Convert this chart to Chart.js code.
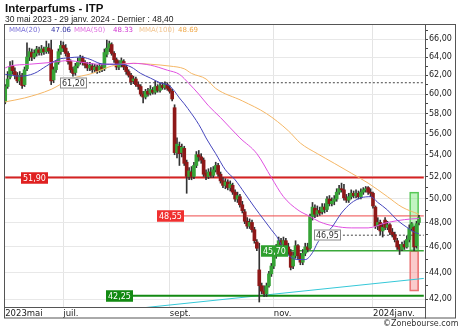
<!DOCTYPE html>
<html><head><meta charset="utf-8">
<script src="https://cdn.jsdelivr.net/npm/chart.js@4.4.0/dist/chart.umd.min.js"></script>
<style>
html,body{margin:0;padding:0;background:#fff;width:460px;height:331px;overflow:hidden;}
#wrap{position:relative;width:460px;height:331px;}
canvas{position:absolute;left:0;top:0;}
.t{position:absolute;white-space:nowrap;font-family:"DejaVu Sans",sans-serif;line-height:1;}
</style></head><body>
<div id="wrap">
<canvas id="c" width="460" height="331"></canvas>
<div class="t" style="left:5px;top:3px;font-family:'Liberation Sans',Arial,sans-serif;font-weight:bold;font-size:11.5px;color:#111">Interparfums - ITP</div>
<div class="t" style="left:5px;top:15px;font-family:'Liberation Sans',Arial,sans-serif;font-size:8.5px;color:#222">30 mai 2023 - 29 janv. 2024 - Dernier : 48,40</div>
<div class="t" style="left:9px;top:27px;font-size:7px;color:#7a70d8">MMA(20)</div>
<div class="t" style="left:51px;top:27px;font-size:7px;color:#3535a5">47.06</div>
<div class="t" style="left:74px;top:27px;font-size:7px;color:#e070e0">MMA(50)</div>
<div class="t" style="left:113px;top:27px;font-size:7px;color:#d030d0">48.33</div>
<div class="t" style="left:139px;top:27px;font-size:7px;color:#f2c48e">MMA(100)</div>
<div class="t" style="left:178px;top:27px;font-size:7px;color:#f0a848">48.69</div>
<div class="t" style="left:383px;top:320px;font-size:8px;color:#333">©Zonebourse.com</div>
</div>
<script>
// ---- categories: trading days (Euronext Paris) ----
const firstDay = [2023, 4, 30];
const lastDay = [2024, 0, 29];
const closedDays = ['2023-12-25', '2023-12-26', '2024-01-01'];
function tradingDays() {
  const out = [];
  let t = Date.UTC(firstDay[0], firstDay[1], firstDay[2]);
  const end = Date.UTC(lastDay[0], lastDay[1], lastDay[2]);
  while (t <= end) {
    const d = new Date(t);
    const s = d.toISOString().slice(0, 10);
    const wd = d.getUTCDay();
    if (wd !== 0 && wd !== 6 && !closedDays.includes(s)) out.push(s);
    t += 86400000;
  }
  return out;
}
const days = tradingDays();
const labels = days.concat(['', ' ']);

// ---- candle series ----
const opens = [59.2,60.8,61.8,63.0,62.4,62.0,61.4,62.0,61.0,62.7,64.0,64.5,64.0,64.4,64.8,64.5,64.9,64.6,65.0,64.8,
61.5,62.6,63.4,64.6,65.3,65.0,64.4,63.5,62.6,62.3,63.0,63.5,63.9,63.4,63.1,62.8,63.0,62.6,62.9,62.5,
62.9,62.7,64.3,65.0,65.4,64.4,63.7,62.9,63.2,63.5,62.9,62.4,62.0,61.4,61.6,61.0,60.8,60.0,59.7,60.3,
60.1,60.4,60.2,60.8,60.4,60.9,60.7,61.0,60.6,60.3,58.6,54.2,54.8,54.2,54.6,53.3,52.0,52.4,52.0,53.0,
54.0,53.8,53.5,52.3,52.0,52.4,52.1,52.6,53.0,52.2,51.6,51.2,51.5,51.0,51.2,50.6,50.0,50.2,49.5,48.9,
48.1,47.7,48.0,47.4,46.4,44.2,43.0,42.6,42.4,43.0,43.9,44.5,45.3,46.0,46.5,46.2,46.5,46.0,45.6,44.5,
45.3,46.1,45.3,44.8,45.5,46.0,45.9,48.5,49.2,48.7,49.0,48.9,49.3,49.1,50.0,49.6,49.8,50.0,50.6,50.9,
50.8,50.1,49.9,50.2,50.5,50.3,50.5,50.2,50.6,50.8,51.0,50.6,50.5,49.3,47.7,48.0,47.3,48.2,47.6,47.8,
47.2,47.0,46.5,46.0,45.8,46.2,46.0,46.6,47.5,47.6,46.1,48.0];
const highs = [61.0,62.4,63.5,63.6,62.8,62.3,62.4,62.2,62.9,65.6,65.0,64.9,64.8,65.2,65.1,65.3,65.1,65.8,65.5,65.9,
62.9,63.6,64.9,65.8,65.7,65.4,64.6,63.7,62.9,63.3,63.9,64.2,64.1,63.6,63.4,63.4,63.3,63.2,63.1,63.3,
63.2,64.9,65.9,65.8,65.6,64.6,63.9,63.6,63.9,63.7,63.1,62.6,62.2,61.9,61.8,61.3,61.0,60.3,60.5,60.6,
60.9,60.7,61.4,61.0,61.2,61.2,61.3,61.2,60.9,60.5,58.9,55.6,55.2,55.0,54.8,53.5,52.8,52.9,53.3,54.3,
54.4,54.1,53.7,52.6,52.7,52.8,52.9,53.3,53.2,52.4,51.9,51.8,51.7,51.6,51.4,50.8,50.6,50.4,49.8,49.1,
48.4,48.3,48.2,47.6,46.6,46.3,43.2,43.0,43.2,44.1,44.7,45.5,46.2,46.8,46.7,46.8,46.7,46.3,45.8,45.6,
46.5,46.2,45.5,45.8,46.3,46.3,48.7,49.7,49.5,49.4,49.3,49.6,49.6,50.2,50.3,50.1,50.3,50.9,51.2,51.4,
51.3,50.4,50.5,50.8,50.7,50.8,50.7,50.9,51.0,51.1,51.1,50.9,50.6,49.4,48.4,48.2,47.9,48.4,48.1,47.9,
47.5,47.2,46.7,46.2,46.4,46.5,46.9,47.8,48.0,47.7,48.1,48.6];
const lows = [59.0,60.6,61.6,62.1,61.6,61.2,61.0,60.6,60.8,62.5,63.6,63.6,63.8,64.1,64.2,64.2,64.3,64.4,64.4,61.0,
61.2,62.3,63.2,64.3,64.6,64.1,63.2,62.3,61.9,62.0,62.8,63.2,63.1,62.8,62.5,62.5,62.3,62.4,62.2,62.3,
62.4,62.5,64.0,64.6,64.2,63.4,62.6,62.6,62.9,62.6,62.1,61.8,61.0,61.1,60.8,60.5,59.8,59.1,59.5,59.8,
59.9,60.0,60.0,60.2,60.2,60.5,60.5,60.4,60.1,59.3,54.0,53.7,53.0,53.8,53.0,50.5,51.7,51.7,51.8,52.8,
53.4,53.2,52.0,51.7,51.8,51.9,51.9,52.4,52.0,51.4,51.0,50.9,50.8,50.7,50.4,49.8,49.7,49.3,48.8,47.9,
47.5,47.5,47.2,46.3,45.7,41.8,42.4,42.2,42.2,42.9,43.7,44.3,45.1,45.8,45.9,46.0,45.7,45.4,44.2,44.3,
45.1,45.0,44.6,44.6,45.3,45.6,45.8,48.2,48.4,48.5,48.6,48.7,48.8,48.9,49.4,49.4,49.5,49.8,50.4,50.6,
49.9,49.7,49.7,50.0,50.1,50.1,50.0,50.0,50.4,50.6,50.4,50.2,49.2,47.5,47.4,47.0,46.8,47.4,47.4,47.0,
46.8,46.4,45.8,45.4,45.7,45.8,45.9,46.4,47.3,45.7,45.9,47.8];
const closes = [60.8,61.6,62.9,62.5,62.0,61.4,62.0,60.9,62.6,64.0,64.6,64.0,64.4,64.9,64.5,64.9,64.6,65.1,64.7,61.4,
62.6,63.4,64.6,65.3,65.0,64.4,63.5,62.6,62.2,63.0,63.5,63.9,63.4,63.1,62.8,63.1,62.6,62.9,62.5,63.0,
62.7,64.5,65.0,65.5,64.4,63.7,62.9,63.2,63.6,62.9,62.4,62.0,61.3,61.6,61.0,60.8,60.0,59.7,60.3,60.0,
60.5,60.2,60.8,60.4,60.9,60.7,61.0,60.6,60.3,59.5,54.2,55.0,54.1,54.7,53.2,52.0,52.5,52.0,53.0,54.0,
53.8,53.5,52.2,52.0,52.4,52.1,52.6,53.0,52.2,51.6,51.2,51.5,51.0,51.3,50.6,50.0,50.3,49.5,49.0,48.1,
47.7,48.0,47.4,46.5,45.9,43.0,42.6,42.4,43.0,43.9,44.5,45.3,46.0,46.5,46.2,46.5,46.0,45.6,44.4,45.3,
46.1,45.3,44.8,45.5,46.0,45.8,48.5,49.3,48.7,49.0,48.8,49.3,49.1,50.0,49.6,49.8,50.0,50.6,50.9,50.8,
50.1,49.9,50.2,50.5,50.3,50.5,50.2,50.6,50.8,50.9,50.6,50.5,49.4,47.7,48.0,47.3,47.6,47.6,47.8,47.2,
47.0,46.6,46.0,45.8,46.2,46.0,46.6,47.5,47.9,46.0,47.9,48.4];

// ---- moving averages: [day index, value] ----
const mma20 = [[0,62.1],[6,61.9],[12,62.2],[17,63.0],[22,63.75],[26,63.9],[31,64.0],[35,63.75],[39,63.3],[43,63.2],
[48,63.2],[52,62.9],[56,62.2],[60,61.7],[64,61.2],[68,60.85],[70,60.3],[72,59.6],[74,59.0],[77,58.0],[79,57.3],
[81,56.5],[83,55.6],[87,54.1],[91,52.6],[95,51.7],[99,50.5],[103,49.3],[107,48.2],[110,47.4],[113,46.6],[115,45.8],
[118,45.2],[121,45.0],[124,45.0],[127,45.55],[129,46.3],[130,46.6],[135,47.6],[139,48.8],[143,49.65],[147,50.1],
[151,50.2],[154,49.7],[158,49.05],[162,48.2],[166,47.6],[169,47.2],[171,47.06]];
const mma50 = [[0,62.8],[2,63.0],[10,63.2],[19,63.4],[26,63.6],[32,63.4],[39,63.2],[48,63.2],[53,63.3],[60,63.1],
[67,62.55],[72,62.1],[76,61.1],[80,60.0],[84,58.8],[89,57.6],[97,55.6],[104,54.1],[110,51.9],[115,50.2],[121,49.05],
[126,48.5],[130,48.05],[136,47.7],[143,47.55],[150,47.55],[157,47.95],[162,48.15],[168,48.3],[171,48.33]];
const mma100 = [[0,59.2],[8,59.6],[19,60.5],[27,61.6],[36,62.2],[44,63.0],[53,63.3],[60,63.2],[68,63.0],[74,62.7],
[77,62.2],[83,61.6],[87,60.6],[98,59.3],[108,58.0],[117,56.3],[122,55.1],[129,54.1],[136,53.2],[143,52.3],
[150,51.4],[158,50.2],[164,49.3],[171,48.69]];

// ---- horizontal levels ----
const levelValues = [51.90, 48.55, 61.20, 46.95, 45.70, 42.25];
const levelTexts = ['51,90', '48,55', '61,20', '46,95', '45,70', '42,25'];
const levelStartDay = [0, 63, 23, 128, 106, 42];
const levelLabelDay = [7, 63, 23, 128, 106, 42];
// trend line (cyan): [day index, value]
const trendLine = [[58, 41.4], [173, 43.55]];
// range boxes at day 169
const boxDay = 169;
const upperBox = [45.7, 50.6];
const lowerBox = [42.6, 45.7];

// ---- axis ticks ----
const yTickValues = [42,43,44,45,46,47,48,49,50,51,52,53,54,55,56,57,58,59,60,61,62,63,64,65,66,67];
const xTickDays = ['2023-05-30', '2023-07-03', '2023-09-01', '2023-11-01', '2024-01-02'];
const xTickTexts = ['2023mai', 'juil.', 'sept.', 'nov.', '2024janv.'];

// ---- build ----
const N = labels.length;
function sparse(pairs) { const a = new Array(N).fill(null); pairs.forEach(p => { a[p[0]] = p[1]; }); return a; }
const UP = '#36a336', DOWN = '#8e1818';

const levelStyles = [
  {color:'#d62222', width:2, dash:[], box:'#e02020', fg:'#fff', border:'#e02020'},
  {color:'#ee4a4a', width:1, dash:[], box:'#f03030', fg:'#fff', border:'#f03030'},
  {color:'#444', width:1, dash:[2,2], box:'#fff', fg:'#333', border:'#888'},
  {color:'#444', width:1, dash:[2,2], box:'#fff', fg:'#333', border:'#888'},
  {color:'#3aa83a', width:1.5, dash:[], box:'#2f9f2f', fg:'#fff', border:'#2f9f2f'},
  {color:'#138a13', width:2, dash:[], box:'#128a12', fg:'#fff', border:'#128a12'}
];

const datasets = [];
const lineBase = {type:'line', pointRadius:0, spanGaps:true, fill:false};
datasets.push(Object.assign({}, lineBase, {data: sparse(mma20), borderColor:'#4646bd', borderWidth:1, cubicInterpolationMode:'monotone', order:1}));
datasets.push(Object.assign({}, lineBase, {data: sparse(mma50), borderColor:'#e050e0', borderWidth:1, cubicInterpolationMode:'monotone', order:1}));
datasets.push(Object.assign({}, lineBase, {data: sparse(mma100), borderColor:'#f5b766', borderWidth:1, cubicInterpolationMode:'monotone', order:1}));
datasets.push({type:'bar', data: opens.map((o, i) => [o, closes[i]]), backgroundColor: closes.map((c, i) => c >= opens[i] ? UP : DOWN),
  barThickness:3, grouped:false, minBarLength:1, order:2});
datasets.push({type:'bar', data: lows.map((l, i) => [l, highs[i]]), backgroundColor:'#333', barThickness:1, grouped:false, order:3});
levelValues.forEach((v, k) => {
  const s = levelStyles[k];
  datasets.push(Object.assign({}, lineBase, {data: sparse([[levelStartDay[k], v], [N - 1, v]]), borderColor:s.color, borderWidth:s.width, borderDash:s.dash, order:4}));
});
datasets.push(Object.assign({}, lineBase, {data: sparse(trendLine), borderColor:'#35c8d8', borderWidth:1, order:4}));
datasets.push({type:'bar', data: sparse([[boxDay, upperBox]]), backgroundColor:'rgba(120,230,120,0.45)', borderColor:'#55c455', borderWidth:1, borderSkipped:false, barThickness:9, grouped:false, order:5});
datasets.push({type:'bar', data: sparse([[boxDay, lowerBox]]), backgroundColor:'rgba(245,140,140,0.45)', borderColor:'#e86a6a', borderWidth:1, borderSkipped:false, barThickness:9, grouped:false, order:5});

const deco = {
  id:'deco',
  afterDatasetsDraw(chart) {
    const ctx = chart.ctx, xs = chart.scales.x, ys = chart.scales.y;
    ctx.save();
    ctx.font = '8px "DejaVu Sans"';
    ctx.textBaseline = 'middle';
    levelValues.forEach((v, k) => {
      const s = levelStyles[k];
      const y = Math.round(ys.getPixelForValue(v));
      const x = Math.round(xs.getPixelForValue(levelLabelDay[k])) - 1;
      const w = Math.ceil(ctx.measureText(levelTexts[k]).width) + 4;
      ctx.fillStyle = s.box;
      ctx.fillRect(x, y - 5.5, w, 11);
      ctx.strokeStyle = s.border; ctx.lineWidth = 1;
      ctx.strokeRect(x + 0.5, y - 5, w - 1, 10);
      ctx.fillStyle = s.fg;
      ctx.fillText(levelTexts[k], x + 2, y + 0.5);
    });
    ctx.restore();
  },
  afterDraw(chart) {
    const ctx = chart.ctx, a = chart.chartArea;
    ctx.save();
    ctx.strokeStyle = '#555'; ctx.lineWidth = 1;
    const L = Math.round(a.left) + 0.5, T = Math.round(a.top) + 0.5, R = Math.round(a.right) + 0.5, B = Math.round(a.bottom) + 0.5;
    ctx.strokeRect(L, T, R - L, 318 - T);
    ctx.strokeRect(R, T, 455.5 - R, 318 - T);
    ctx.beginPath(); ctx.moveTo(L, B); ctx.lineTo(R, B); ctx.stroke();
    ctx.restore();
  }
};

new Chart(document.getElementById('c'), {
  type:'bar',
  data:{labels, datasets},
  plugins:[deco],
  options:{
    responsive:false, animation:false, devicePixelRatio:1,
    layout:{padding:{left:4, top:24, right:4, bottom:13}},
    plugins:{legend:{display:false}, tooltip:{enabled:false}, title:{display:false}},
    scales:{
      x:{
        type:'category', offset:true,
        grid:{offset:false, drawTicks:false, color:(c) => (c.index > 0 && xTickDays.includes(labels[c.index])) ? '#e4e4e4' : 'rgba(0,0,0,0)'},
        border:{display:false},
        ticks:{autoSkip:false, maxRotation:0, minRotation:0, align:'start', padding:2, color:'#222', font:{family:'DejaVu Sans', size:8.5},
          callback:(v, i) => { const k = xTickDays.indexOf(labels[i]); return k >= 0 ? xTickTexts[k] : ''; }},
        afterFit:(s) => { s.height = 11; }
      },
      y:{
        type:'logarithmic', position:'right', min:41.44, max:67.78,
        grid:{color:(c) => (c.tick && c.tick.value % 2 === 0) ? '#e8e8e8' : 'rgba(0,0,0,0)', tickColor:'#444', tickLength:3, drawTicks:true},
        border:{display:false},
        afterBuildTicks:(s) => { s.ticks = yTickValues.map(v => ({value:v})); },
        ticks:{autoSkip:false, padding:1, color:'#222', font:{family:'DejaVu Sans', size:8},
          callback:(v) => v % 2 === 0 ? v.toFixed(2).replace('.', ',') : ''},
        afterFit:(s) => { s.width = 31; }
      }
    }
  }
});
</script>
</body></html>
